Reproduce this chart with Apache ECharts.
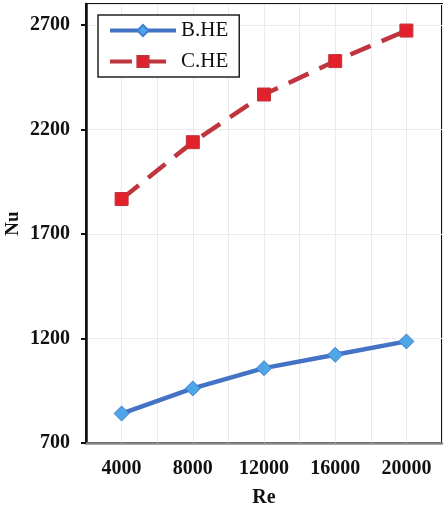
<!DOCTYPE html>
<html>
<head>
<meta charset="utf-8">
<script src="https://cdn.jsdelivr.net/npm/echarts@6/dist/echarts.min.js"></script>
<style>
  html, body { margin: 0; padding: 0; background: #fff; }
  #chart { width: 445px; height: 506px; }
</style>
</head>
<body>
<div id="chart"></div>
<script>
var reValues = [4000, 8000, 12000, 16000, 20000];
var bheValues = [841, 961, 1058, 1122, 1186];
var cheValues = [1867, 2139, 2367, 2527, 2673];
var seriesNames = ['B.HE', 'C.HE'];

function pairs(xs, ys) {
    return xs.map(function (x, i) { return [x, ys[i]]; });
}

var font = '"Liberation Serif", "Times New Roman", serif';
var myChart = echarts.init(document.getElementById('chart'));

myChart.setOption({
    animation: false,
    grid: {
        left: 86,
        right: 3,
        top: 4,
        bottom: 63,
        outerBoundsMode: 'none',
        containLabel: false,
        show: true,
        borderColor: '#111',
        borderWidth: 2
    },
    legend: {
        orient: 'vertical',
        left: 98,
        top: 15,
        itemWidth: 66,
        itemHeight: 14,
        itemGap: 10,
        padding: [5, 11, 5, 10],
        borderColor: '#222',
        borderWidth: 1.5,
        backgroundColor: '#fff',
        textStyle: { fontFamily: font, fontSize: 21, color: '#111' },
        data: [
            { name: seriesNames[0], lineStyle: { width: 4 } },
            { name: seriesNames[1], lineStyle: { width: 4 } }
        ]
    },
    xAxis: {
        type: 'value',
        min: 2000,
        max: 22000,
        interval: 2000,
        name: 'Re',
        nameLocation: 'middle',
        nameGap: 45,
        nameMoveOverlap: false,
        nameTextStyle: { fontFamily: font, fontSize: 20, fontWeight: 'bold', color: '#111' },
        axisLine: { lineStyle: { color: '#8a8a8a', width: 2.5 } },
        axisTick: { show: false },
        axisLabel: {
            fontFamily: font, fontSize: 20, fontWeight: 'bold', color: '#111', margin: 16,
            formatter: function (v) {
                return (v % 4000 === 0 && v >= 4000 && v <= 20000) ? String(v) : '';
            }
        },
        splitLine: { show: true, lineStyle: { color: '#ebebeb', width: 1 } }
    },
    yAxis: {
        type: 'value',
        min: 700,
        max: 2800,
        interval: 500,
        name: 'Nu',
        nameLocation: 'middle',
        nameGap: 63,
        nameMoveOverlap: false,
        nameTextStyle: { fontFamily: font, fontSize: 19, fontWeight: 'bold', color: '#111' },
        axisLine: { show: true, lineStyle: { color: '#111', width: 2.5 } },
        axisTick: { show: true, inside: false, length: 5, lineStyle: { color: '#111', width: 2 } },
        axisLabel: {
            fontFamily: font, fontSize: 20, fontWeight: 'bold', color: '#111', margin: 16,
            showMaxLabel: false,
            formatter: function (v) { return String(v); }
        },
        splitLine: { show: true, lineStyle: { color: '#ebebeb', width: 1 } }
    },
    series: [
        {
            name: seriesNames[0],
            type: 'line',
            data: pairs(reValues, bheValues),
            symbol: 'diamond',
            symbolSize: 15,
            lineStyle: { color: '#4472c4', width: 4.5 },
            itemStyle: { color: '#4ea6e6', borderColor: '#3f7fd0', borderWidth: 1 }
        },
        {
            name: seriesNames[1],
            type: 'line',
            data: pairs(reValues, cheValues),
            symbol: 'rect',
            symbolSize: 13,
            lineStyle: { color: '#c0343e', width: 4.5, type: [22, 12] },
            itemStyle: { color: '#e3212b', borderColor: '#c0343e', borderWidth: 1 }
        }
    ]
});

window.addEventListener('resize', function () {
    myChart.resize();
});
</script>
</body>
</html>
